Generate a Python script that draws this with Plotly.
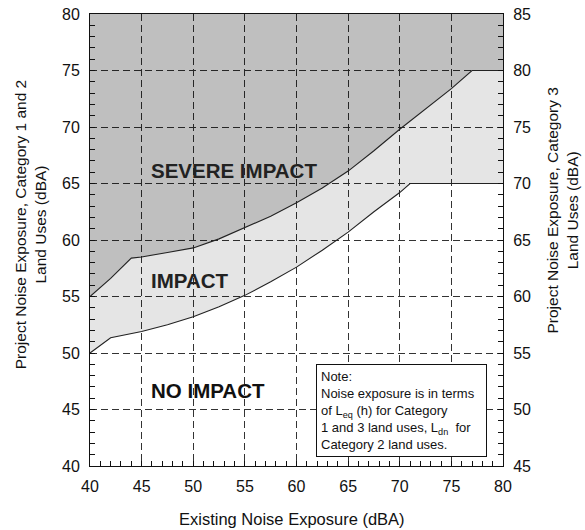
import plotly.graph_objects as go

# ---- data ----
existing_severe = [40, 42, 44, 45, 47.5, 50, 52.5, 55, 57.5, 60, 62.5, 65, 67.5, 70, 72.5, 75, 77, 80]
severe_threshold = [55, 56.6, 58.4, 58.5, 58.9, 59.3, 60.1, 61.1, 62.1, 63.3, 64.6, 66.1, 67.9, 69.8, 71.6, 73.4, 75, 75]

existing_impact = [40, 42, 45, 47.5, 50, 52.5, 55, 57.5, 60, 62.5, 65, 67.5, 70, 71, 80]
impact_threshold = [50, 51.35, 51.9, 52.5, 53.2, 54.1, 55.1, 56.3, 57.6, 59.1, 60.7, 62.5, 64.2, 65, 65]

x_range = [40, 80]
y_top = [80, 80]
left_ticks = [40, 45, 50, 55, 60, 65, 70, 75, 80]
right_ticks = [45, 50, 55, 60, 65, 70, 75, 80, 85]
x_ticks = [40, 45, 50, 55, 60, 65, 70, 75, 80]

FONT = "Arial, Liberation Sans, Helvetica, sans-serif"

fig = go.Figure()
fig.add_trace(go.Scatter(x=x_range, y=y_top, mode="lines",
                         line=dict(width=0, color="rgba(0,0,0,0)"),
                         hoverinfo="skip", showlegend=False))
fig.add_trace(go.Scatter(x=existing_severe, y=severe_threshold, mode="lines",
                         fill="tonexty", fillcolor="rgba(0,0,0,0.25)",
                         line=dict(color="#222222", width=1.1),
                         name="Severe impact", showlegend=False))
fig.add_trace(go.Scatter(x=existing_impact, y=impact_threshold, mode="lines",
                         fill="tonexty", fillcolor="rgba(0,0,0,0.10)",
                         line=dict(color="#222222", width=1.1),
                         name="Impact", showlegend=False))
# invisible trace to activate the right axis
fig.add_trace(go.Scatter(x=x_range, y=[45, 85], yaxis="y2", mode="lines",
                         line=dict(width=0, color="rgba(0,0,0,0)"),
                         hoverinfo="skip", showlegend=False))

tickfont = dict(family=FONT, size=16, color="#111111")
grid = dict(showgrid=True, gridcolor="#333333", gridwidth=1, griddash="7px,4px")

fig.update_layout(
    width=585, height=530, autosize=False,
    margin=dict(l=90, r=82, t=14, b=64, autoexpand=False),
    paper_bgcolor="white", plot_bgcolor="white",
    xaxis=dict(range=x_range, tickvals=x_ticks, ticks="inside", ticklen=5,
               tickcolor="#111111",
               minor=dict(dtick=1, ticks="inside", ticklen=5, tickcolor="#111111", showgrid=False),
               showline=True, linecolor="#111111", linewidth=1, mirror=True,
               tickfont=tickfont, ticklabelstandoff=6, zeroline=False, **grid),
    yaxis=dict(range=[40, 80], tickvals=left_ticks, ticks="inside", ticklen=5,
               tickcolor="#111111",
               minor=dict(dtick=1, ticks="inside", ticklen=5, tickcolor="#111111", showgrid=False),
               showline=True, linecolor="#111111", linewidth=1, mirror=True,
               tickfont=tickfont, ticklabelstandoff=6, zeroline=False, **grid),
    yaxis2=dict(range=[45, 85], tickvals=right_ticks, overlaying="y", side="right",
                ticks="inside", ticklen=5, tickcolor="#111111",
                minor=dict(dtick=1, ticks="inside", ticklen=5, tickcolor="#111111", showgrid=False),
                showline=True, linecolor="#111111", linewidth=1,
                showgrid=False, zeroline=False, tickfont=tickfont, ticklabelstandoff=6),
)

annots = [
    dict(text="<b>SEVERE IMPACT</b>", x=45.7, y=66.15, xanchor="left", yanchor="middle",
         font=dict(family=FONT, size=20.5, color="#222222")),
    dict(text="<b>IMPACT</b>", x=45.7, y=56.4, xanchor="left", yanchor="middle",
         font=dict(family=FONT, size=20.5, color="#222222")),
    dict(text="<b>NO IMPACT</b>", x=45.7, y=46.7, xanchor="left", yanchor="middle",
         font=dict(family=FONT, size=20.5, color="#111111")),
    dict(text="Note:<br>Noise exposure is in terms<br>of L<sub>eq</sub> (h) for Category<br>"
              "1 and 3 land uses, L<sub>dn</sub>  for<br>Category 2 land uses.",
         x=70.15, y=44.87, xanchor="center", yanchor="middle", align="left",
         width=161, height=83, valign="middle",
         bgcolor="white", bordercolor="#111111", borderwidth=1, borderpad=4,
         font=dict(family=FONT, size=13, color="#111111")),
]
for a in annots:
    fig.add_annotation(showarrow=False, xref="x", yref="y", **a)

titlefont = dict(family=FONT, size=15.5, color="#111111")
fig.add_annotation(text="Project Noise Exposure, Category 1 and 2<br>Land Uses (dBA)",
                   xref="paper", yref="paper", x=-0.145, y=0.535, xanchor="center",
                   yanchor="middle", textangle=-90, showarrow=False, font=titlefont)
fig.add_annotation(text="Project Noise Exposure, Category 3<br>Land Uses (dBA)",
                   xref="paper", yref="paper", x=1.145, y=0.565, xanchor="center",
                   yanchor="middle", textangle=-90, showarrow=False, font=titlefont)
fig.add_annotation(text="Existing Noise Exposure (dBA)",
                   xref="paper", yref="paper", x=0.49, y=-0.117, xanchor="center",
                   yanchor="middle", showarrow=False, font=dict(family=FONT, size=16.5, color="#111111"))

fig.write_html("out.html", config={"displayModeBar": False},
               post_script="document.body.style.margin='0';document.body.style.padding='0';"
                           "document.documentElement.style.overflow='hidden';")
